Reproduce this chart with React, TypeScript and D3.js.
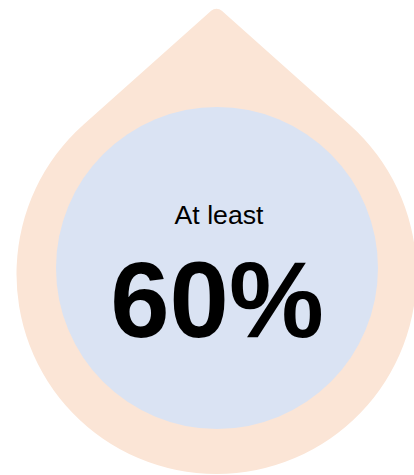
import React from "react";
import * as d3 from "d3";

const labels: string[] = ["At least"];
const values: number[] = [60];
const units: string[] = ["%"];

const W = 414;
const H = 475;

export default function App() {
  const cx = 216.5;
  const cy = 274;
  const R = 200;
  const tipY = 6;
  const d = cy - tipY;
  const phi = Math.acos(R / d);
  const aRight = -Math.PI / 2 + phi;
  const aLeft = -Math.PI / 2 - phi + 2 * Math.PI;
  const p = d3.path();
  const lx = cx + R * Math.cos(aLeft);
  const ly = cy + R * Math.sin(aLeft);
  const rx = cx + R * Math.cos(aRight);
  const ry = cy + R * Math.sin(aRight);
  p.moveTo(lx, ly);
  p.arcTo(cx, tipY, rx, ry, 8);
  p.lineTo(rx, ry);
  p.arc(cx, cy, R, aRight, aLeft, false);
  p.closePath();

  const innerR = 161;
  const innerCx = 217;
  const innerCy = 268;

  const fmt = d3.format("d");

  return (
    <svg
      width={W}
      height={H}
      style={{ position: "absolute", left: 0, top: 0 }}
      fontFamily="'Liberation Sans', Arial, sans-serif"
    >
      <path d={p.toString()} fill="#FBE5D6" />
      <circle cx={innerCx} cy={innerCy} r={innerR} fill="#DAE3F3" />
      {labels.map((l, i) => (
        <g key={i}>
          <text x={219} y={224} textAnchor="middle" fontSize={26.67} fill="#000">
            {l}
          </text>
          <text
            x={217}
            y={337}
            textAnchor="middle"
            fontSize={106.67}
            fontWeight="bold"
            fill="#000"
          >
            {fmt(values[i])}
            {units[i]}
          </text>
        </g>
      ))}
    </svg>
  );
}
